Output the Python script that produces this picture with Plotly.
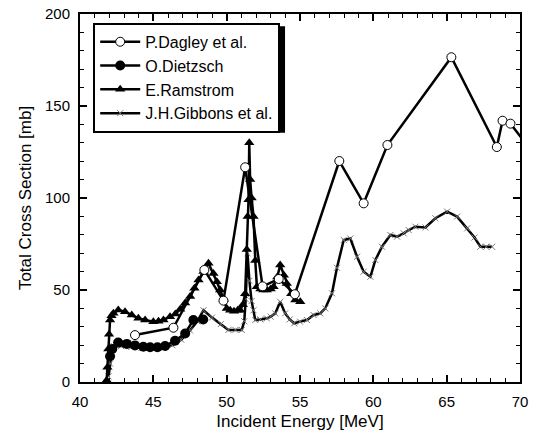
import plotly.graph_objects as go

# ---------------- data ----------------
dagley_x = [43.75, 46.37, 48.48, 49.78, 51.26, 52.45, 53.55, 54.65, 57.68, 59.34,
            60.96, 65.32, 68.42, 68.81, 69.35, 70.5]
dagley_y = [25.5, 29.5, 60.9, 44.2, 116.7, 52, 56, 47.7, 120.1, 97.1,
            128.8, 176.5, 127.7, 142, 140.4, 128.5]

dietzsch_x = [42.05, 42.2, 42.6, 43.19, 43.75, 44.32, 44.78, 45.28, 45.8, 46.48,
              47.17, 47.73, 48.4]
dietzsch_y = [14, 18, 21.4, 20.7, 19.9, 19.2, 18.9, 18.9, 19.6, 22.4,
              26.4, 33.7, 34]

ramstrom_x = [41.82, 41.87, 41.93, 41.98, 42.05, 42.15, 42.28, 42.61, 43.07, 43.53,
              43.98, 44.44, 45.0, 45.35, 45.69, 46.14, 46.5, 46.83, 47.17, 47.51,
              47.8, 48.08, 48.42, 48.76, 49.1, 49.33, 49.56, 49.8, 50.01, 50.24,
              50.5, 50.75, 50.92, 51.1, 51.26, 51.37, 51.43, 51.49, 51.54, 51.6,
              51.7, 51.83, 51.95, 52.06, 52.3, 52.5, 52.74, 53.0, 53.2, 53.45,
              53.65, 53.9, 54.1, 54.4, 54.68, 55.02]
ramstrom_y = [1, 8, 18, 26, 33.7, 36, 37.3, 39.1, 38.2, 36.4,
              34.6, 33.7, 32.8, 33, 33.7, 35.5, 37, 39.5, 43, 46.4,
              51, 55.4, 60, 64.5, 59, 54.5, 50, 45, 40, 39,
              38.5, 39, 39, 42, 48, 72, 90, 99, 130, 110,
              100, 90, 66, 51.8, 50.5, 50, 50, 50.5, 51.8, 57,
              63.6, 58, 53.6, 48, 44.6, 43.6]

gibbons_x = [41.95, 42.05, 42.16, 42.3, 42.8, 43.5, 44.2, 45.0, 45.7, 46.3,
             46.9, 47.5, 48.0, 48.42, 49.0, 49.6, 50.12, 50.6, 51.03, 51.2,
             51.3, 51.42, 51.55, 51.7, 51.83, 51.95, 52.3, 52.74, 53.0, 53.31,
             53.65, 53.99, 54.3, 54.6, 55.0, 55.47, 55.93, 56.38, 56.72, 57.18,
             57.52, 57.98, 58.43, 58.89, 59.34, 59.8, 60.14, 60.59, 61.16, 61.62,
             62.07, 62.41, 62.87, 63.55, 64.23, 65.03, 65.71, 66.4, 66.9, 67.3,
             67.7, 68.1]
gibbons_y = [3, 10, 16, 19.5, 19.5, 19, 18.5, 18, 18.5, 20,
             23, 28, 33, 39, 35, 31.5, 28.3, 28.3, 28.3, 33,
             45, 70, 55, 44, 39, 33.7, 34, 34.6, 35.5, 37.3,
             43.6, 37.3, 34, 31.9, 32.8, 33.7, 36.4, 37.3, 40, 48.2,
             62.1, 77.2, 78, 68.1, 59.9, 57.2, 66.3, 73.5, 79.9, 79,
             80.8, 82.6, 84.4, 84, 89, 92.6, 89.9, 83.5, 78.5, 73.5,
             73.5, 73.5]

names = ["P.Dagley et al.", "O.Dietzsch", "E.Ramstrom", "J.H.Gibbons et al."]
x_ticks = [40, 45, 50, 55, 60, 65, 70]
y_ticks = [0, 50, 100, 150, 200]

# ---------------- figure ----------------
fig = go.Figure()

fig.add_trace(go.Scatter(
    x=gibbons_x, y=gibbons_y, name=names[3], mode="lines+markers", legendrank=4,
    line=dict(color="black", width=2.5),
    marker=dict(symbol="x-thin", size=6, line=dict(color="#777777", width=1))))

fig.add_trace(go.Scatter(
    x=dietzsch_x, y=dietzsch_y, name=names[1], mode="lines+markers", legendrank=2,
    line=dict(color="black", width=2.5),
    marker=dict(symbol="circle", size=10, color="black")))

fig.add_trace(go.Scatter(
    x=ramstrom_x, y=ramstrom_y, name=names[2], mode="lines+markers", legendrank=3,
    line=dict(color="black", width=2.5),
    marker=dict(symbol="triangle-up", size=9, color="black")))

fig.add_trace(go.Scatter(
    x=dagley_x, y=dagley_y, name=names[0], mode="lines+markers", legendrank=1,
    line=dict(color="black", width=2.5),
    marker=dict(symbol="circle", size=9, color="white", line=dict(color="black", width=1))))

axis_common = dict(
    showline=True, linecolor="black", linewidth=2, mirror="allticks",
    ticks="inside", ticklen=7, tickwidth=1.5, tickcolor="black",
    showgrid=False, zeroline=False, automargin=False, ticklabeloverflow="allow",
    ticklabelstandoff=5,
    tickfont=dict(family="Liberation Sans, Arial, sans-serif", size=15, color="black"),
    title_font=dict(family="Liberation Sans, Arial, sans-serif", size=17, color="black"),
)

fig.update_xaxes(range=[40, 70], tickvals=x_ticks, title_text="Incident Energy [MeV]",
                 minor=dict(dtick=1, ticks="inside", ticklen=4, tickwidth=1, tickcolor="black"),
                 title_standoff=6, **axis_common)
fig.update_yaxes(range=[0, 200], tickvals=y_ticks, title_text="Total Cross Section [mb]",
                 minor=dict(dtick=10, ticks="inside", ticklen=4, tickwidth=1, tickcolor="black"),
                 title_standoff=9, **axis_common)

# legend shadow (offset a few pixels down/right of the legend box)
fig.add_shape(type="rect", xref="paper", yref="paper",
              x0=0.036, x1=0.466, y0=0.677, y1=0.967,
              fillcolor="black", line=dict(width=0), layer="above")

fig.update_layout(
    width=533, height=439,
    margin=dict(l=80, r=13, t=14, b=57),
    paper_bgcolor="white", plot_bgcolor="white",
    font=dict(family="Liberation Sans, Arial, sans-serif", color="black"),
    legend=dict(x=0.03, y=0.976, xanchor="left", yanchor="top",
                bgcolor="white", bordercolor="black", borderwidth=2,
                font=dict(size=16, color="black"),
                tracegroupgap=0, itemwidth=40),
)

# remove the default 8px page margin so the figure fills the window exactly
fig.write_html("out.html", config={"displayModeBar": False},
               post_script="document.body.style.margin='0';document.body.style.padding='0';")
